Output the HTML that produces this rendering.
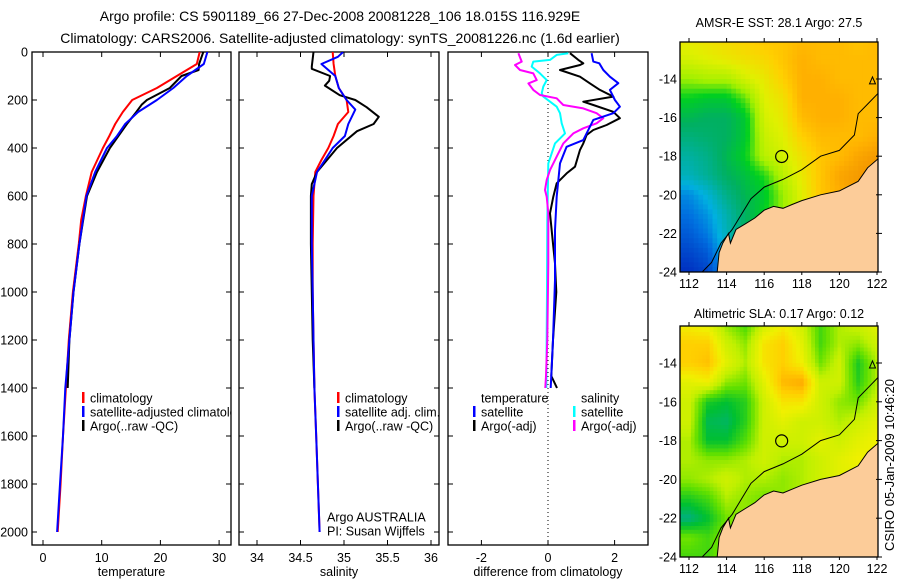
<!DOCTYPE html>
<html><head><meta charset="utf-8"><style>
html,body{margin:0;padding:0;background:#fff;}
svg{display:block;font-family:"Liberation Sans",sans-serif;}
</style></head><body>
<svg id="fig" width="900" height="580" viewBox="0 0 900 580" xmlns="http://www.w3.org/2000/svg">
<defs>
<clipPath id="c1"><rect x="32" y="52" width="199" height="493"/></clipPath>
<clipPath id="c2"><rect x="239" y="52" width="200" height="493"/></clipPath>
<clipPath id="c3"><rect x="448" y="52" width="200" height="493"/></clipPath>
<clipPath id="m1"><rect x="680" y="42" width="198" height="230"/></clipPath>
<clipPath id="m2"><rect x="680" y="326" width="198" height="231"/></clipPath>
</defs>
<text x="340" y="21" font-size="14" text-anchor="middle">Argo profile: CS 5901189_66 27-Dec-2008 20081228_106 18.015S 116.929E</text>
<text x="340" y="43" font-size="14" text-anchor="middle">Climatology: CARS2006. Satellite-adjusted climatology: synTS_20081226.nc (1.6d earlier)</text>
<text x="779" y="27" font-size="12.5" text-anchor="middle">AMSR-E SST: 28.1 Argo: 27.5</text>
<text x="779" y="318" font-size="12.5" text-anchor="middle">Altimetric SLA: 0.17 Argo: 0.12</text>
<text x="0" y="0" font-size="13" text-anchor="middle" transform="translate(894,465) rotate(-90)">CSIRO 05-Jan-2009 10:46:20</text>
<g id="g1"></g>
<g id="g2"></g>
<g id="g3"></g>
<g id="gm1"></g>
<g id="gm2"></g>
</svg>
<script>
// ---- profile data ----
const tClimDepth=[0,50,100,150,200,250,300,350,400,500,600,700,800,1000,1200,1400,1600,1800,2000];
const tClimVal=[26.7,26.2,22.8,19.4,15.2,13.6,12.3,11.3,10.2,8.3,7.3,6.5,6.1,5.1,4.4,3.9,3.4,3.0,2.5];
const tSatDepth=[0,50,100,150,200,250,300,350,400,500,600,800,1000,1200,1400,1600,1800,2000];
const tSatVal=[28,27.4,24.5,22.2,19.4,16.2,14,12.6,10.9,8.9,7.4,6.2,5.2,4.5,3.8,3.4,2.9,2.4];
const tArgoDepth=[0,50,75,100,150,200,220,250,300,400,500,600,800,1000,1200,1400];
const tArgoVal=[27.3,26.6,26.5,23.6,21.6,17.7,16.8,15.9,14.3,11.4,9.2,7.5,6.2,5.2,4.5,4.2];
const sClimDepth=[0,50,100,150,200,250,300,350,400,450,500,600,800,1000,1200,1400,1600,1800,2000];
const sClimVal=[34.87,34.88,34.9,34.94,35.03,35.05,34.93,34.88,34.82,34.74,34.67,34.65,34.64,34.64,34.65,34.66,34.68,34.7,34.72];
const sSatDepth=[0,20,50,100,150,200,240,300,350,400,450,500,600,800,1000,1200,1400,1600,1800,2000];
const sSatVal=[34.99,34.93,34.74,34.9,34.94,35.03,35.13,35.05,35.01,34.87,34.78,34.69,34.63,34.63,34.64,34.65,34.66,34.68,34.7,34.72];
const sArgoDepth=[0,60,70,100,120,140,180,200,230,270,300,330,400,500,550,600,800,1000,1200,1400];
const sArgoVal=[34.65,34.63,34.63,34.84,34.83,34.78,34.95,35.13,35.26,35.4,35.34,35.15,34.92,34.69,34.63,34.62,34.62,34.63,34.64,34.66];
const dTSatDepth=[5,40,47,75,103,130,158,200,228,255,283,311,367,395,464,603,742,950,1200,1400];
const dTSatVal=[1.31,1.36,1.54,1.66,1.86,2.11,1.86,2.01,2.16,1.96,1.36,1.26,1.06,0.56,0.36,0.26,0.21,0.21,0.15,0.08];
const dTArgoDepth=[5,33,47,54,75,103,131,158,186,207,221,249,276,304,325,346,381,408,478,506,547,603,672,811,881,1000,1200,1350,1400];
const dTArgoVal=[0.66,0.91,1.06,0.96,0.36,0.96,1.26,1.56,1.96,1.06,1.36,1.96,2.16,1.76,1.36,1.16,1.06,0.96,0.81,0.56,0.26,0.16,0.06,0.16,0.21,0.25,0.15,0.1,0.27];
const dSSatDepth=[5,12,33,40,61,89,117,144,172,186,228,255,297,339,381,422,464,700,1000,1400];
const dSSatVal=[0.61,0.26,0.06,-0.44,-0.49,-0.24,-0.04,-0.14,-0.19,-0.14,0.26,0.36,0.41,0.51,0.21,0.11,0.01,-0.02,-0.03,-0.05];
const dSArgoDepth=[5,40,54,75,89,117,131,158,179,193,207,221,235,255,276,297,318,339,381,436,492,533,575,603,672,881,1200,1350,1400];
const dSArgoVal=[-0.89,-0.79,-0.99,-0.84,-0.44,-0.34,-0.59,-0.44,-0.24,0.26,0.36,0.46,1.06,1.46,1.66,1.46,1.06,0.76,0.46,0.26,0.06,-0.04,-0.09,-0.04,0.01,0.01,-0.02,-0.06,-0.08];
const depthTicks=[0,200,400,600,800,1000,1200,1400,1600,1800,2000];
const tempTicks=[0,10,20,30];
const salTicks=[34,34.5,35,35.5,36];
const diffTicks=[-2,0,2];
// ---- map data (rows lat -12..-24, cols lon 112..122) ----
const mapLons=[112,113,114,115,116,117,118,119,120,121,122];
const mapLats=[-12,-13,-14,-15,-16,-17,-18,-19,-20,-21,-22,-23,-24];
const sstGrid=[
[28.4,28.5,28.6,28.7,28.8,28.8,28.9,28.9,28.9,28.8,28.9],
[28.2,28.3,28.4,28.5,28.6,28.8,29.0,28.9,28.9,28.9,28.9],
[27.8,27.9,27.9,28.2,28.4,28.7,29.0,29.0,28.9,28.9,28.9],
[27.3,27.2,27.2,27.6,28.3,28.5,29.0,29.0,29.0,28.9,28.9],
[27.0,26.9,26.9,27.2,28.2,28.4,28.9,29.0,29.0,28.9,28.9],
[26.7,26.8,26.9,27.2,28.1,28.3,28.7,28.9,28.9,28.9,29.0],
[26.4,26.6,27.0,27.3,28.0,28.2,28.5,28.8,28.9,29.1,29.2],
[26.2,26.5,26.9,27.1,27.4,28.0,28.4,28.8,29.1,29.2,29.3],
[25.6,26.0,26.6,27.0,27.2,27.8,28.3,28.8,29.0,29.2,29.3],
[25.4,25.7,26.3,26.9,27.3,27.8,28.3,28.8,29.0,29.2,29.3],
[25.2,25.5,26.2,26.9,27.5,28.0,28.3,28.8,29.0,29.2,29.3],
[25.0,25.2,26.0,26.8,27.5,28.0,28.3,28.8,29.0,29.2,29.3],
[24.8,25.0,25.8,26.8,27.5,28.0,28.3,28.8,29.0,29.2,29.3]];
const slaGrid=[
[0.20,0.18,0.10,0.05,0.15,0.20,0.15,0.05,0.12,0.15,0.18],
[0.25,0.25,0.15,0.10,0.22,0.25,0.18,0.05,0.12,0.10,0.15],
[0.25,0.27,0.18,0.12,0.22,0.25,0.20,0.08,0.15,0.02,0.12],
[0.18,0.20,0.10,0.08,0.18,0.28,0.30,0.15,0.15,0.03,0.12],
[0.15,0.02,0.00,0.03,0.15,0.22,0.22,0.15,0.10,0.08,0.15],
[0.15,-0.02,-0.03,0.03,0.15,0.18,0.15,0.15,0.12,0.15,0.18],
[0.12,0.00,0.00,0.06,0.15,0.15,0.15,0.18,0.15,0.18,0.20],
[0.12,0.10,0.10,0.12,0.15,0.12,0.12,0.15,0.18,0.20,0.20],
[0.10,0.12,0.15,0.12,0.12,0.10,0.12,0.15,0.18,0.18,0.18],
[0.02,0.05,0.12,0.10,0.08,0.10,0.12,0.15,0.15,0.15,0.15],
[-0.05,0.00,0.08,0.10,0.10,0.12,0.12,0.15,0.15,0.15,0.15],
[0.08,0.05,0.10,0.10,0.10,0.12,0.12,0.15,0.15,0.15,0.15],
[0.05,0.05,0.10,0.10,0.10,0.12,0.12,0.15,0.15,0.15,0.15]];
const coastLon=[122.1,121.5,121,120,119,118,117.5,117,116.5,116,115.5,115,114.5,114.2,114.1,113.8,113.6,113.5,122.1];
const coastLat=[-18.1,-18.6,-19.3,-19.8,-20.0,-20.3,-20.5,-20.7,-20.6,-20.8,-21.2,-21.5,-21.8,-22.5,-22.0,-22.5,-23.0,-24,-24];
const isoLon=[112.7,113.2,113.7,114.3,114.8,115.3,116,117,118,119,120,120.8,121,121.5,122.1];
const isoLat=[-24,-23.5,-22.5,-21.8,-21.0,-20.2,-19.6,-19.2,-18.7,-18.0,-17.7,-16.9,-15.8,-15.3,-14.7];
const argoLon=116.929, argoLat=-18.015;
const mapLonTicks=[112,114,116,118,120,122];
const mapLatTicks=[-14,-16,-18,-20,-22,-24];

const NS='http://www.w3.org/2000/svg';
function mk(tag,attrs,parent){const e=document.createElementNS(NS,tag);for(const k in attrs)e.setAttribute(k,attrs[k]);parent.appendChild(e);return e;}
const yD=d=>52+d*0.24;
const xT=t=>43+t*5.87, xS=s=>257+(s-34)*87, xDf=v=>548+v*33.3;

function panel(g,x0,w,xf,ticks,label,clip,nm){
  const fr=mk('rect',{x:x0,y:52,width:w,height:493,fill:'none',stroke:'#000','stroke-width':1.3},g);
  
  
  depthTicks.forEach(d=>{
    mk('line',{x1:x0,x2:x0+5,y1:yD(d),y2:yD(d),stroke:'#000'},g);
    mk('line',{x1:x0+w,x2:x0+w-5,y1:yD(d),y2:yD(d),stroke:'#000'},g);
  });
  ticks.forEach(t=>{
    const x=xf(t);
    mk('line',{x1:x,x2:x,y1:52,y2:57,stroke:'#000'},g);
    mk('line',{x1:x,x2:x,y1:545,y2:540,stroke:'#000'},g);
    const tl=mk('text',{x:x,y:562,'font-size':12.5,'text-anchor':'middle'},g);
    tl.textContent=String(t);
    
    
  });
  const al=mk('text',{x:x0+w/2,y:576,'font-size':12.5,'text-anchor':'middle'},g);
  al.textContent=label;
  
  
}
function series(g,depths,vals,xf,color,clip,nm){
  const pts=depths.map((d,i)=>xf(vals[i]).toFixed(1)+','+yD(d).toFixed(1)).join(' ');
  const p=mk('polyline',{points:pts,fill:'none',stroke:color,'stroke-width':2,'clip-path':'url(#'+clip+')','stroke-linejoin':'round'},g);
  
  
}
function legend(g,x,y,color,label,nm,clip){
  if(color){const m=mk('rect',{x:x,y:y-6,width:2.5,height:11,fill:color},g);
    
    }
  const t=mk('text',{x:x+8,y:y+4.5,'font-size':12.5},g);
  if(clip)t.setAttribute('clip-path','url(#'+clip+')');
  t.textContent=label;
  
  
}
const g1=document.getElementById('g1'),g2=document.getElementById('g2'),g3=document.getElementById('g3');
panel(g1,32,199,xT,tempTicks,'temperature','c1','temperature');
panel(g2,239,200,xS,salTicks,'salinity','c2','salinity');
panel(g3,448,200,xDf,diffTicks,'difference from climatology','c3','difference');
depthTicks.forEach(d=>{
  const t=mk('text',{x:28,y:yD(d)+4.5,'font-size':12.5,'text-anchor':'end'},g1);
  t.textContent=String(d);
  
  
});
mk('line',{x1:xDf(0),x2:xDf(0),y1:52,y2:545,stroke:'#000','stroke-dasharray':'1,3'},g3);
series(g1,tClimDepth,tClimVal,xT,'#f00','c1','temp-climatology-line');
series(g1,tArgoDepth,tArgoVal,xT,'#000','c1','temp-argo-line');
series(g1,tSatDepth,tSatVal,xT,'#00f','c1','temp-satellite-line');
series(g2,sClimDepth,sClimVal,xS,'#f00','c2','sal-climatology-line');
series(g2,sArgoDepth,sArgoVal,xS,'#000','c2','sal-argo-line');
series(g2,sSatDepth,sSatVal,xS,'#00f','c2','sal-satellite-line');
series(g3,dSSatDepth,dSSatVal,xDf,'#0ff','c3','diff-sal-satellite-line');
series(g3,dSArgoDepth,dSArgoVal,xDf,'#f0f','c3','diff-sal-argo-line');
series(g3,dTArgoDepth,dTArgoVal,xDf,'#000','c3','diff-temp-argo-line');
series(g3,dTSatDepth,dTSatVal,xDf,'#00f','c3','diff-temp-satellite-line');
legend(g1,82,398,'#f00','climatology','legend-climatology');
legend(g1,82,412,'#00f','satellite-adjusted climatology','legend-satellite-adjusted','c1');
legend(g1,82,426,'#000','Argo(..raw -QC)','legend-argo');
legend(g2,337,398,'#f00','climatology','legend-climatology');
legend(g2,337,412,'#00f','satellite adj. clim.','legend-satellite-adj');
legend(g2,337,426,'#000','Argo(..raw -QC)','legend-argo');
legend(g2,319,517,null,'Argo AUSTRALIA','argo-australia-label');
legend(g2,319,531,null,'PI: Susan Wijffels','pi-label');
legend(g3,473,398,null,'temperature','legend-temperature-header');
legend(g3,473,412,'#00f','satellite','legend-temp-satellite');
legend(g3,473,426,'#000','Argo(-adj)','legend-temp-argo');
legend(g3,573,398,null,'salinity','legend-salinity-header');
legend(g3,573,412,'#0ff','satellite','legend-sal-satellite');
legend(g3,573,426,'#f0f','Argo(-adj)','legend-sal-argo');

// ---- maps ----
function hex(c){return [parseInt(c.substr(1,2),16),parseInt(c.substr(3,2),16),parseInt(c.substr(5,2),16)];}
function cmap(stops,v){
  if(v<=stops[0][0])return stops[0][1];
  for(let i=1;i<stops.length;i++){if(v<=stops[i][0]){const a=hex(stops[i-1][1]),b=hex(stops[i][1]);const f=(v-stops[i-1][0])/(stops[i][0]-stops[i-1][0]);
    return 'rgb('+a.map((x,j)=>Math.round(x+(b[j]-x)*f)).join(',')+')';}}
  return stops[stops.length-1][1];
}
const sstStops=[[24.8,'#0030c0'],[25.4,'#0070e0'],[25.9,'#00b0e0'],[26.4,'#00b0a0'],[26.9,'#00b060'],[27.3,'#00d020'],[27.8,'#a0f000'],[28.3,'#e0f000'],[28.7,'#ffd000'],[29.0,'#ffb000'],[29.3,'#f09000']];
const slaStops=[[-0.05,'#00b080'],[0.0,'#00c030'],[0.07,'#60e000'],[0.13,'#c0f000'],[0.2,'#f0f000'],[0.25,'#ffd000'],[0.3,'#ffaa00']];
function interp(grid,lon,lat){
  let c=(lon-112),r=(-12-lat);c=Math.max(0,Math.min(10,c));r=Math.max(0,Math.min(12,r));
  const c0=Math.min(9,Math.floor(c)),r0=Math.min(11,Math.floor(r)),fc=c-c0,fr=r-r0;
  return grid[r0][c0]*(1-fc)*(1-fr)+grid[r0][c0+1]*fc*(1-fr)+grid[r0+1][c0]*(1-fc)*fr+grid[r0+1][c0+1]*fc*fr;
}
function drawMap(g,y14,top,bot,grid,stops,step,clip,nm){
  const lonX=l=>689+(l-112)*18.8, latY=la=>y14+(-14-la)*((bot-y14)/10);
  const cells=mk('g',{'clip-path':'url(#'+clip+')'},g);
  
  
  for(let lon=111.5;lon<122.1;lon+=step){for(let lat=-12;lat>-24.05;lat-=step){
    const v=interp(grid,lon+step/2,lat-step/2);
    mk('rect',{x:lonX(lon).toFixed(1),y:latY(lat).toFixed(1),width:(step*18.8+0.6).toFixed(1),height:(step*19.4+0.6).toFixed(1),fill:cmap(stops,v)},cells);
  }}
  const land=mk('polygon',{points:coastLon.map((l,i)=>lonX(l).toFixed(1)+','+latY(coastLat[i]).toFixed(1)).join(' '),fill:'#fccc99',stroke:'#000','stroke-width':1,'clip-path':'url(#'+clip+')'},g);
  
  
  const iso=mk('polyline',{points:isoLon.map((l,i)=>lonX(l).toFixed(1)+','+latY(isoLat[i]).toFixed(1)).join(' '),fill:'none',stroke:'#000','stroke-width':1,'clip-path':'url(#'+clip+')'},g);
  
  
  mk('path',{d:'M'+lonX(121.6)+','+(latY(-14.1)+3)+' l3,-7 l3,7 z',fill:'none',stroke:'#000'},g);
  const c=mk('circle',{cx:lonX(argoLon),cy:latY(argoLat),r:6,fill:'none',stroke:'#000','stroke-width':1.2},g);
  
  
  mk('rect',{x:680,y:top,width:198,height:bot-top,fill:'none',stroke:'#000','stroke-width':1.3},g);
  mapLonTicks.forEach(l=>{
    mk('line',{x1:lonX(l),x2:lonX(l),y1:top,y2:top-4,stroke:'#000'},g);
    mk('line',{x1:lonX(l),x2:lonX(l),y1:bot,y2:bot+3,stroke:'#000'},g);
    const t=mk('text',{x:lonX(l),y:bot+16,'font-size':12.5,'text-anchor':'middle'},g);
    t.textContent=String(l);
    
    
  });
  mapLatTicks.forEach(la=>{
    mk('line',{x1:876,x2:882,y1:latY(la),y2:latY(la),stroke:'#000'},g);
    const t=mk('text',{x:677,y:latY(la)+4.5,'font-size':12.5,'text-anchor':'end'},g);
    t.textContent=String(la);
    
    
  });
}
drawMap(document.getElementById('gm1'),79,42,272,sstGrid,sstStops,0.25,'m1','sst-map');
drawMap(document.getElementById('gm2'),363,326,557,slaGrid,slaStops,0.2,'m2','sla-map');
</script>
</body></html>
